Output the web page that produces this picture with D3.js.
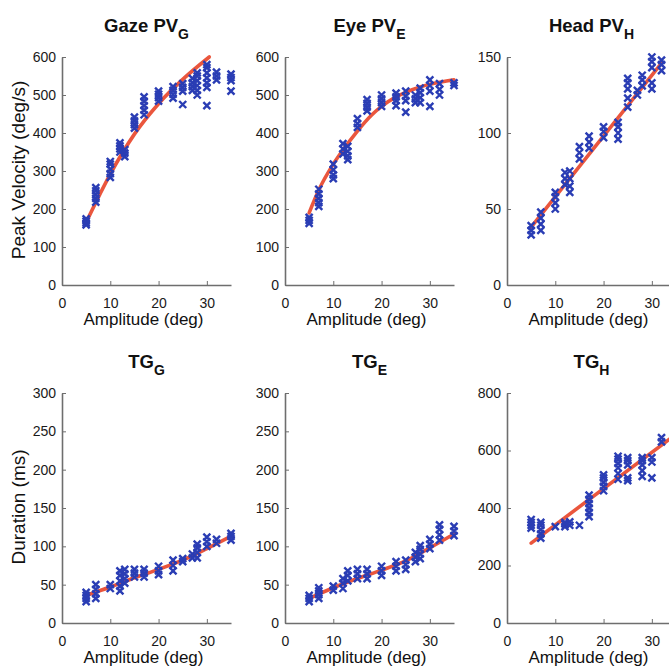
<!DOCTYPE html>
<html><head><meta charset="utf-8">
<script src="https://cdn.jsdelivr.net/npm/d3@7"></script>
<style>body{margin:0;background:#fff}svg{display:block}</style>
</head><body>
<svg id="chart" width="669" height="672"></svg>
<script>
// ---------- data ----------
const xTicks = [0, 10, 20, 30];

const gazePV = [
  {a:5,v:[158,163,168,174]},{a:7,v:[218,228,238,248,256]},{a:10,v:[283,293,305,318,325]},
  {a:12,v:[350,358,366,374]},{a:13,v:[338,347,356]},{a:15,v:[413,422,432,442]},
  {a:17,v:[448,460,472,484,495]},{a:20,v:[484,493,502,510]},{a:23,v:[492,502,512,522]},
  {a:25,v:[475,510,520,530]},{a:27,v:[512,522,532,544]},{a:28,v:[500,512,525,538,550,558]},
  {a:30,v:[472,520,532,545,558,572,580]},{a:32,v:[540,550,560]},{a:35,v:[510,538,546,555]}
];
const gazePVFit = [[5,165],[10,292],[15,397],[20,477],[25,541],[30.5,600]];

const eyePV = [
  {a:5,v:[162,170,178]},{a:7,v:[207,217,228,240,252]},{a:10,v:[280,290,303,318]},
  {a:12,v:[345,358,372]},{a:13,v:[330,340,352,365]},{a:15,v:[415,425,438]},
  {a:17,v:[458,468,478,488]},{a:20,v:[470,480,490,500]},{a:23,v:[472,485,495,505]},
  {a:25,v:[455,485,497,510]},{a:27,v:[480,490,500]},{a:28,v:[480,493,506,518]},
  {a:30,v:[470,510,525,540]},{a:32,v:[500,515,530]},{a:35,v:[525,532]}
];
const eyePVFit = [[5,190],[7,250],[10,318],[12,355],[15,405],[18,448],[20,470],[23,495],[25,507],[28,521],[30,528],[35,540]];

const headPV = [
  {a:5,v:[33,36,39]},{a:7,v:[36,40,44,48]},{a:10,v:[50,54,58,61]},{a:12,v:[66,70,74]},
  {a:13,v:[61,65,70,75]},{a:15,v:[83,87,91]},{a:17,v:[90,94,98]},{a:20,v:[97,101,104]},
  {a:23,v:[96,100,104,107]},{a:25,v:[117,123,129,133,136]},{a:27,v:[125,128]},
  {a:28,v:[131,135,138]},{a:30,v:[129,133,143,147,150]},{a:32,v:[141,145,148]}
];
const headPVFit = [[5,38],[32,146]];

const tgG = [
  {a:5,v:[28,32,36,40]},{a:7,v:[32,38,44,50]},{a:10,v:[45,50]},{a:12,v:[42,48,55,62,68]},
  {a:13,v:[52,58,64,70]},{a:15,v:[60,65,70]},{a:17,v:[60,65,70]},{a:20,v:[63,68,74]},
  {a:23,v:[68,75,82]},{a:25,v:[80,84]},{a:27,v:[85,90]},{a:28,v:[85,92,98,103]},
  {a:30,v:[100,106,112]},{a:32,v:[104,109]},{a:35,v:[108,113,117]}
];
const tgGFit = [[5,36],[10,47],[15,59],[20,70],[25,82],[30,97],[35,113]];

const tgE = [
  {a:5,v:[28,32,36]},{a:7,v:[32,37,42,46]},{a:10,v:[43,48]},{a:12,v:[45,52,58]},
  {a:13,v:[55,62,68]},{a:15,v:[58,64,70]},{a:17,v:[58,64,70]},{a:20,v:[62,68,74]},
  {a:23,v:[68,74,80]},{a:25,v:[70,76,82]},{a:27,v:[80,86,92]},{a:28,v:[84,90,96,101]},
  {a:30,v:[97,103,109]},{a:32,v:[108,115,122,128]},{a:35,v:[114,120,126]}
];
const tgEFit = [[5,32],[10,46],[15,58],[20,69],[25,81],[30,98],[35,116]];

const tgH = [
  {a:5,v:[330,340,350,360]},{a:7,v:[295,310,325,340,350]},{a:10,v:[335]},{a:12,v:[335,345,350]},
  {a:13,v:[340,352]},{a:15,v:[340]},{a:17,v:[370,385,400,415,430,445]},
  {a:20,v:[460,475,490,505,515]},{a:23,v:[500,520,540,555,570,580]},
  {a:25,v:[495,505,550,565,575]},{a:28,v:[510,530,550,565,575]},{a:30,v:[505,560,575]},
  {a:32,v:[630,645]}
];
const tgHFit = [[5,278],[35,657]];

const panels = [
  {title:"Gaze PV", sub:"G", data:gazePV, fit:gazePVFit, yMax:600, yTicks:[0,100,200,300,400,500,600], col:0, row:0, ylabel:"Peak Velocity (deg/s)"},
  {title:"Eye PV",  sub:"E", data:eyePV,  fit:eyePVFit,  yMax:600, yTicks:[0,100,200,300,400,500,600], col:1, row:0},
  {title:"Head PV", sub:"H", data:headPV, fit:headPVFit, yMax:150, yTicks:[0,50,100,150], col:2, row:0},
  {title:"TG", sub:"G", data:tgG, fit:tgGFit, yMax:300, yTicks:[0,50,100,150,200,250,300], col:0, row:1, ylabel:"Duration (ms)"},
  {title:"TG", sub:"E", data:tgE, fit:tgEFit, yMax:300, yTicks:[0,50,100,150,200,250,300], col:1, row:1},
  {title:"TG", sub:"H", data:tgH, fit:tgHFit, yMax:800, yTicks:[0,200,400,600,800], col:2, row:1}
];

// ---------- layout ----------
const colX = [62, 285, 507];
const rowTop = [57, 393];
const rowBot = [285, 623];
const plotW = 169;
const font = "'Liberation Sans', Arial, Helvetica, sans-serif";
const axisColor = "#6e6e6e";
const markColor = "#2a3db4";
const fitColor = "#e8482c";

const svg = d3.select("#chart").style("font-family", font);

panels.forEach(p => {
  const x0 = colX[p.col], yT = rowTop[p.row], yB = rowBot[p.row];
  const x = d3.scaleLinear().domain([0, 35]).range([x0, x0 + plotW]);
  const y = d3.scaleLinear().domain([0, p.yMax]).range([yB, yT]);
  const g = svg.append("g");

  // axes
  const xa = g.append("g").attr("transform", `translate(0,${yB})`)
    .call(d3.axisBottom(x).tickValues(xTicks).tickSizeInner(-4).tickSizeOuter(0).tickPadding(13));
  const ya = g.append("g").attr("transform", `translate(${x0},0)`)
    .call(d3.axisLeft(y).tickValues(p.yTicks).tickSizeInner(-4).tickSizeOuter(0).tickPadding(6));
  [xa, ya].forEach(a => {
    a.select(".domain").attr("stroke", axisColor).attr("stroke-width", 1.6);
    a.selectAll(".tick line").attr("stroke", axisColor).attr("stroke-width", 1);
    a.selectAll(".tick text").attr("fill", "#1a1a1a").style("font-size", "14px").style("font-family", font);
  });

  // fit line
  const line = d3.line().x(d => x(d[0])).y(d => y(d[1])).curve(d3.curveMonotoneX);
  g.append("path").datum(p.fit).attr("d", line)
    .attr("fill", "none").attr("stroke", fitColor).attr("stroke-width", 3.6)
    .attr("stroke-linecap", "round").attr("stroke-opacity", 0.92);

  // markers (x crosses)
  const pts = [];
  p.data.forEach(d => d.v.forEach(v => pts.push([d.a, v])));
  const s = 3.5;
  g.append("g").selectAll("path").data(pts).join("path")
    .attr("d", d => {
      const cx = x(d[0]), cy = y(d[1]);
      return `M${cx-s},${cy-s}L${cx+s},${cy+s}M${cx-s},${cy+s}L${cx+s},${cy-s}`;
    })
    .attr("stroke", markColor).attr("stroke-width", 2.4).attr("fill", "none");

  // title with subscript
  const t = g.append("text").attr("x", x0 + plotW / 2).attr("y", yT - 25)
    .attr("text-anchor", "middle").attr("fill", "#111")
    .style("font-weight", "bold").style("font-size", "18.5px");
  t.append("tspan").text(p.title);
  t.append("tspan").attr("dy", 7).style("font-size", "14px").text(p.sub);

  // x label
  g.append("text").attr("x", x0 + plotW / 2 - 3).attr("y", yB + 40)
    .attr("text-anchor", "middle").attr("fill", "#111").style("font-size", "17px")
    .text("Amplitude (deg)");

  // y label
  if (p.ylabel) {
    g.append("text")
      .attr("transform", `translate(25,${(yT + yB) / 2 - 1}) rotate(-90)`)
      .attr("text-anchor", "middle").attr("fill", "#111").style("font-size", "19px")
      .text(p.ylabel);
  }
});
</script>
</body></html>
